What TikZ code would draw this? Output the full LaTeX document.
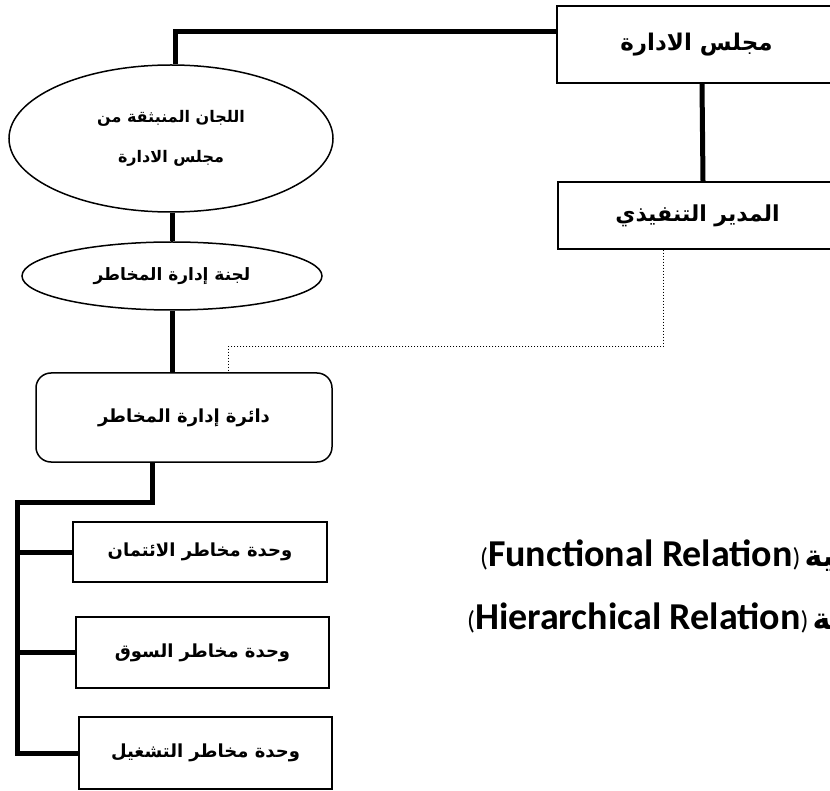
\documentclass[tikz,border=0pt]{standalone}
\usepackage{fontspec}
\setmainfont{Carlito}
\newfontfamily\arabicfont[Script=Arabic]{DejaVu Sans}
\TeXXeTstate=1
\usetikzlibrary{shapes.geometric}
\newcommand{\artxt}[1]{{\arabicfont\bfseries\beginR #1\endR}}
\newcommand{\thinparen}[1]{{\fontsize{26}{26}\selectfont\mdseries #1}}
\begin{document}
\begin{tikzpicture}[x=1pt,y=-1pt,
  boxst/.style={draw,line width=1.5pt,rectangle,inner sep=0pt,align=center},
  ellst/.style={draw,line width=1.5pt,ellipse,inner sep=0pt,align=center},
  heavy/.style={line width=5pt},
  dotline/.style={dotted,line width=1pt},
  reltext/.style={anchor=west,inner sep=0pt,font=\fontsize{38}{44}\selectfont\bfseries}]
\fill[white] (0,0) rectangle (830,791);
\useasboundingbox (0,0) rectangle (830,791);
\clip (0,0) rectangle (830,791);

\node[boxst,minimum width=279pt,minimum height=77pt,font=\fontsize{23}{27}\selectfont] (board) at (696.5,44.5) {\artxt{مجلس الادارة}};
\node[boxst,minimum width=279pt,minimum height=67pt,font=\fontsize{22}{26}\selectfont] (exec) at (697.5,215.5) {\artxt{المدير التنفيذي}};

\node[ellst,minimum width=324pt,minimum height=147pt,font=\fontsize{16}{40}\selectfont] (ell1) at (171,138.5) {\artxt{اللجان المنبثقة من}\\\artxt{مجلس الادارة}};
\node[ellst,minimum width=300pt,minimum height=68pt,font=\fontsize{17}{20}\selectfont] (ell2) at (172,276) {\artxt{لجنة إدارة المخاطر}};

\node[boxst,rounded corners=15pt,minimum width=296pt,minimum height=89pt,font=\fontsize{18}{22}\selectfont] (rbox) at (184,417.5) {\artxt{دائرة إدارة المخاطر}};

\node[boxst,minimum width=254pt,minimum height=60pt,font=\fontsize{18}{22}\selectfont] (ua) at (200,552) {\artxt{وحدة مخاطر الائتمان}};
\node[boxst,minimum width=253pt,minimum height=71pt,font=\fontsize{18}{22}\selectfont] (ub) at (202.5,652.5) {\artxt{وحدة مخاطر السوق}};
\node[boxst,minimum width=253pt,minimum height=72pt,font=\fontsize{18}{22}\selectfont] (uc) at (205.5,753) {\artxt{وحدة مخاطر التشغيل}};

\node[reltext] (func) at (480,557) {\thinparen{(}Functional Relation\thinparen{)}\hspace{4pt}{\fontsize{30}{30}\selectfont\artxt{الوظيفية}}};
\node[reltext] (hier) at (467,620) {\thinparen{(}Hierarchical Relation\thinparen{)}\hspace{4pt}{\fontsize{30}{30}\selectfont\artxt{الهرمية}}};

\coordinate (topcorner) at (175,32);
\draw[heavy] (board.west |- topcorner) -- (topcorner) -- (topcorner |- ell1.north);
\draw[heavy] ([xshift=5.5pt]board.south) -- ([xshift=5.5pt]exec.north);
\draw[heavy] (ell2.north |- ell1.south) -- (ell2.north);
\draw[heavy] (ell2.south) -- (ell2.south |- rbox.north);
\coordinate (dj) at (228,347);
\draw[dotline] ([xshift=-34.5pt]exec.south) |- (dj) -- (dj |- rbox.north);
\coordinate (sp) at (17,502);
\draw[heavy] ([xshift=-32pt]rbox.south) |- (sp) |- (uc.west);
\draw[heavy] (sp |- ua.west) -- (ua.west);
\draw[heavy] (sp |- ub.west) -- (ub.west);
\end{tikzpicture}
\end{document}
